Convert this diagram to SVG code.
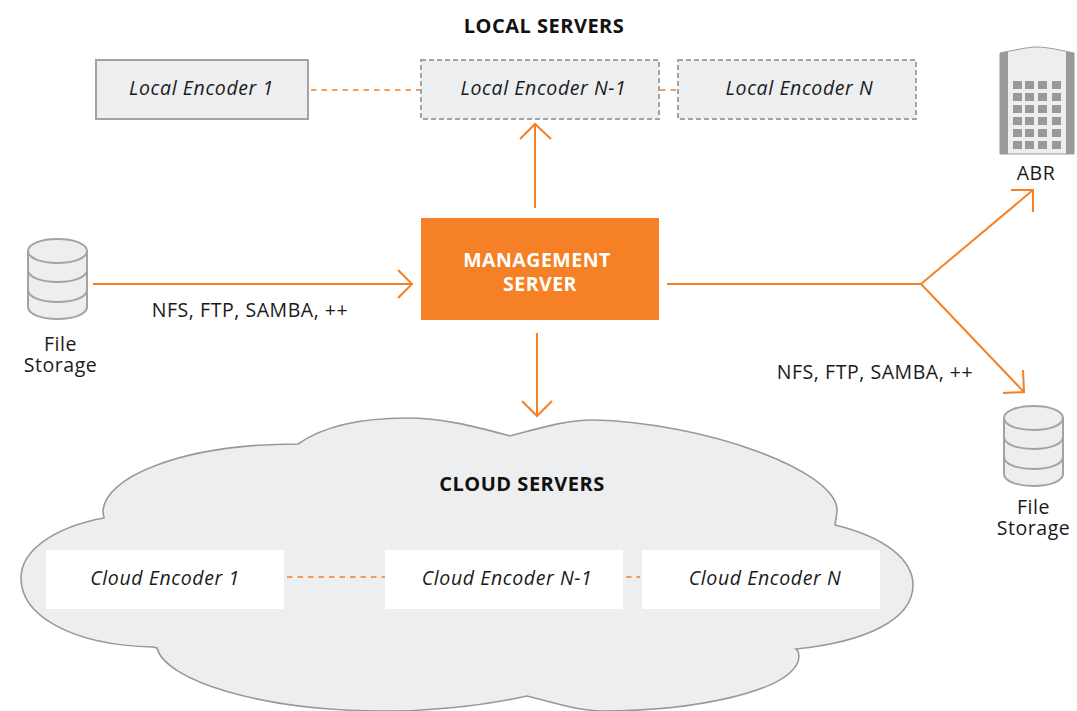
<svg xmlns="http://www.w3.org/2000/svg" width="1077" height="711" viewBox="0 0 1077 711">
<style>
text{font-family:"Open Sans","Noto Sans","Liberation Sans",sans-serif;fill:#1a1a1a;text-anchor:middle}
.h{font-weight:700;font-size:20px;letter-spacing:.5px;fill:#111}
.e{font-style:italic;font-size:19.500px;letter-spacing:.6px}
.l{font-size:19.500px;letter-spacing:.55px}
.box{fill:#edeef0;stroke:#a3a3a3;stroke-width:2}
.dash{stroke-dasharray:5 3}
.w{fill:#fff}
.a{fill:none;stroke:#f58025;stroke-width:2}
.d{fill:none;stroke:#f58025;stroke-width:1.6;stroke-dasharray:5.500 5}
.cyl{fill:#edeef0;stroke:#a3a3a3;stroke-width:2}
.band{fill:none;stroke:#a3a3a3;stroke-width:2}
.g{fill:#999}
.m{fill:#fff;font-weight:700;font-size:19.500px;letter-spacing:.5px}
</style>
<defs>
<g id="db">
<path class="cyl" d="M0 12C0 5 13 0 29.500 0S59 5 59 12V68C59 75 46 80 29.500 80S0 75 0 68Z"/>
<path class="band" d="M0 12C0 19 13 24 29.500 24S59 19 59 12M0 31C0 38 13 43 29.500 43S59 38 59 31M0 51C0 58 13 63 29.500 63S59 58 59 51"/>
</g>
</defs>
<text class="h" x="544" y="32.500">LOCAL SERVERS</text>
<g id="cloud">
<path fill="#edeef0" stroke="#999" stroke-width="1.6" d="M298 444C325 425 365 418 407 418C445 418 480 428 510 436C540 428 565 420 593 420C700 422 840 470 837 512L835 525C885 537 913 560 913 585C913 620 865 642 796 649C800 652 799 658 798 662C785 693 690 711 603 711C580 711 550 702 527 696C490 704 440 711 385 711C260 711 165 680 157 648L153 647C70 645 21 615 21 578C21 550 55 527 104 518L103 512C103 478 180 444 298 444Z"/>
<text class="h" x="522" y="490.500">CLOUD SERVERS</text>
</g>
<g id="connectors">
<path class="a" d="M93 284H412M398 270L412 284L398 298"/>
<path class="a" d="M535 208V124M520 139L535 124L551 139"/>
<path class="a" d="M537 333V416M522 401L537 416L552 401"/>
<path class="a" d="M667 284H921L1033 190M1011 190H1033V212"/>
<path class="a" d="M921 284L1024 392M1023 370L1024 392L1003 393"/>
<path class="d" d="M311 90H420"/>
<path class="d" d="M660 90H678"/>
<path class="d" d="M287 577H385"/>
<path class="d" d="M626 577H640"/>
</g>
<g id="local-encoder-1"><rect class="box" x="96" y="60" width="212" height="59"/><text class="e" x="201.500" y="95">Local Encoder 1</text></g>
<g id="local-encoder-n-1"><rect class="box dash" x="421" y="60" width="238" height="59"/><text class="e" x="543.500" y="95">Local Encoder N-1</text></g>
<g id="local-encoder-n"><rect class="box dash" x="678" y="60" width="238" height="59"/><text class="e" x="799.500" y="95">Local Encoder N</text></g>
<g id="management-server"><rect x="421" y="218" width="238" height="102" fill="#f58025"/>
<text class="m" y="266.500"><tspan x="537">MANAGEMENT</tspan><tspan x="540" dy="24">SERVER</tspan></text></g>
<g id="cloud-encoder-1"><rect class="w" x="46" y="550" width="238" height="59"/><text class="e" x="165" y="585">Cloud Encoder 1</text></g>
<g id="cloud-encoder-n-1"><rect class="w" x="385" y="550" width="238" height="59"/><text class="e" x="507" y="585">Cloud Encoder N-1</text></g>
<g id="cloud-encoder-n"><rect class="w" x="642" y="550" width="238" height="59"/><text class="e" x="765" y="585">Cloud Encoder N</text></g>
<g id="file-storage-left"><use href="#db" x="28" y="239"/><text class="l" y="351"><tspan x="60.500">File</tspan><tspan x="60.500" dy="21">Storage</tspan></text></g>
<g id="file-storage-right"><use href="#db" x="1004" y="406"/><text class="l" y="514"><tspan x="1033.500">File</tspan><tspan x="1033.500" dy="21">Storage</tspan></text></g>
<text class="l" x="250" y="317">NFS, FTP, SAMBA, ++</text>
<text class="l" x="875" y="379">NFS, FTP, SAMBA, ++</text>
<g id="abr">
<path fill="#edeef0" stroke="#999" stroke-width="1" d="M1000 53C1015 50 1028 47 1037 47C1046 47 1060 50 1074 53V154H1000Z"/>
<path class="g" d="M1000 53L1008 51.500V154H1000ZM1066 51.500L1074 53V154H1066Z"/>
<g class="g">
<rect x="1013" y="81" width="9" height="8"/><rect x="1025" y="81" width="9" height="8"/><rect x="1038" y="81" width="9" height="8"/><rect x="1052" y="81" width="9" height="8"/>
<rect x="1013" y="93" width="9" height="8"/><rect x="1025" y="93" width="9" height="8"/><rect x="1038" y="93" width="9" height="8"/><rect x="1052" y="93" width="9" height="8"/>
<rect x="1013" y="105" width="9" height="8"/><rect x="1025" y="105" width="9" height="8"/><rect x="1038" y="105" width="9" height="8"/><rect x="1052" y="105" width="9" height="8"/>
<rect x="1013" y="117" width="9" height="8"/><rect x="1025" y="117" width="9" height="8"/><rect x="1038" y="117" width="9" height="8"/><rect x="1052" y="117" width="9" height="8"/>
<rect x="1013" y="129" width="9" height="8"/><rect x="1025" y="129" width="9" height="8"/><rect x="1038" y="129" width="9" height="8"/><rect x="1052" y="129" width="9" height="8"/>
<rect x="1013" y="141" width="9" height="8"/><rect x="1025" y="141" width="9" height="8"/><rect x="1038" y="141" width="9" height="8"/><rect x="1052" y="141" width="9" height="8"/>
</g>
<text class="l" x="1036" y="180">ABR</text>
</g>
</svg>
